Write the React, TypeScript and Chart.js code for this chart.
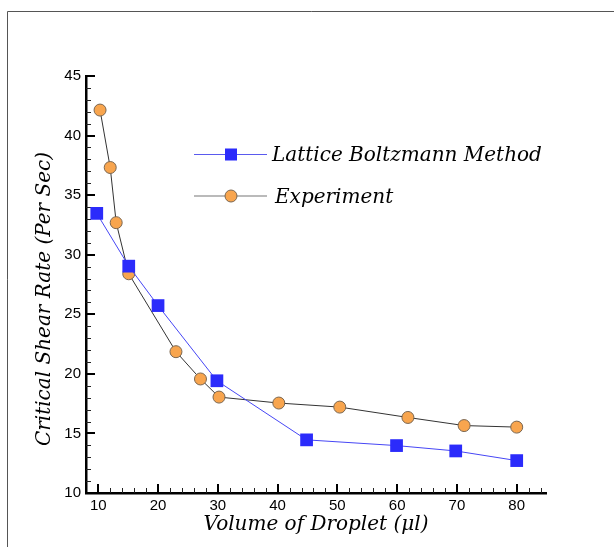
import React, { useEffect, useRef } from "react";
import { Chart, registerables } from "chart.js";

Chart.register(...registerables);

// ---- data ----
const lbmLabel = "Lattice Boltzmann Method";
const lbmX = [9.75, 15.1, 20, 29.85, 44.85, 59.9, 69.8, 80];
const lbmY = [33.47, 29.04, 25.73, 19.42, 14.46, 13.98, 13.53, 12.72];

const expLabel = "Experiment";
const expX = [10.3, 12.0, 13.0, 15.1, 23.0, 27.1, 30.2, 40.2, 50.4, 61.8, 71.2, 80];
const expY = [42.14, 37.32, 32.69, 28.4, 21.86, 19.57, 18.05, 17.55, 17.21, 16.34, 15.66, 15.53];

const xMajorTicks = [10, 20, 30, 40, 50, 60, 70, 80];
const xMinorTicks = [12, 14, 16, 18, 22, 24, 26, 28, 32, 34, 36, 38, 42, 44, 46, 48, 52, 54, 56, 58, 62, 64, 66, 68, 72, 74, 76, 78, 82, 84];
const yMajorTicks = [10, 15, 20, 25, 30, 35, 40, 45];
const yMinorTicks = [11, 12, 13, 14, 16, 17, 18, 19, 21, 22, 23, 24, 26, 27, 28, 29, 31, 32, 33, 34, 36, 37, 38, 39, 41, 42, 43, 44];

const xTitle = "Volume of Droplet (\u03BCl)";
const yTitle = "Critical Shear Rate (Per Sec)";

const SERIF = "italic 20px 'DejaVu Serif'";

const decorPlugin = {
  id: "decor",
  beforeDraw(chart: any) {
    const ctx = chart.ctx;
    ctx.save();
    ctx.strokeStyle = "#555";
    ctx.lineWidth = 1;
    ctx.beginPath();
    ctx.moveTo(7.5, 560);
    ctx.lineTo(7.5, 11.5);
    ctx.lineTo(620, 11.5);
    ctx.stroke();
    ctx.restore();
  },
  beforeDatasetsDraw(chart: any) {
    const ctx = chart.ctx;
    const xs = chart.scales.x;
    const ys = chart.scales.y;
    const area = chart.chartArea;
    ctx.save();
    ctx.strokeStyle = "#000";
    ctx.lineWidth = 2;
    ctx.beginPath();
    xMajorTicks.forEach((v) => {
      const px = Math.round(xs.getPixelForValue(v));
      ctx.moveTo(px, area.bottom);
      ctx.lineTo(px, area.bottom - 9);
    });
    yMajorTicks.forEach((v) => {
      if (v === ys.min) return;
      const py = Math.round(ys.getPixelForValue(v));
      ctx.moveTo(area.left, py);
      ctx.lineTo(area.left + 9, py);
    });
    ctx.stroke();
    ctx.strokeStyle = "#222";
    ctx.lineWidth = 1;
    ctx.beginPath();
    xMinorTicks.forEach((v) => {
      const px = Math.round(xs.getPixelForValue(v)) + 0.5;
      ctx.moveTo(px, area.bottom);
      ctx.lineTo(px, area.bottom - 5);
    });
    yMinorTicks.forEach((v) => {
      const py = Math.round(ys.getPixelForValue(v)) + 0.5;
      ctx.moveTo(area.left, py);
      ctx.lineTo(area.left + 5, py);
    });
    ctx.stroke();
    ctx.restore();
  },
  afterDraw(chart: any) {
    const ctx = chart.ctx;
    const area = chart.chartArea;
    ctx.save();
    ctx.fillStyle = "#000";
    ctx.font = SERIF;
    ctx.textAlign = "center";
    ctx.textBaseline = "alphabetic";
    ctx.fillText(xTitle, (area.left + area.right) / 2, 530);
    ctx.save();
    ctx.translate(50, 299);
    ctx.rotate(-Math.PI / 2);
    ctx.fillText(yTitle, 0, 0);
    ctx.restore();

    const items = [
      { ds: chart.data.datasets[0], y: 154.5, textX: 272, line: "#5a5aee" },
      { ds: chart.data.datasets[1], y: 196, textX: 275, line: "#777" },
    ];
    items.forEach((it) => {
      ctx.strokeStyle = it.line;
      ctx.lineWidth = 1.2;
      ctx.beginPath();
      ctx.moveTo(194, it.y);
      ctx.lineTo(267, it.y);
      ctx.stroke();
      const cx = 231;
      ctx.fillStyle = it.ds.pointBackgroundColor;
      ctx.strokeStyle = it.ds.pointBorderColor;
      ctx.lineWidth = 1;
      if (it.ds.pointStyle === "rect") {
        ctx.fillRect(cx - 6, it.y - 6, 12, 12);
      } else {
        ctx.beginPath();
        ctx.arc(cx, it.y, 6, 0, Math.PI * 2);
        ctx.fill();
        ctx.stroke();
      }
      ctx.fillStyle = "#000";
      ctx.font = SERIF;
      ctx.textAlign = "left";
      ctx.textBaseline = "alphabetic";
      ctx.fillText(it.ds.label, it.textX, it.y + 6.5);
    });
    ctx.restore();
  },
};

export default function App() {
  const canvasRef = useRef<HTMLCanvasElement | null>(null);

  useEffect(() => {
    const canvas = canvasRef.current;
    if (!canvas) return;
    const tickFont = { family: "'Liberation Sans', Arial, sans-serif", size: 15 };
    const chart = new Chart(canvas, {
      type: "line",
      data: {
        datasets: [
          {
            label: lbmLabel,
            data: lbmX.map((x, i) => ({ x, y: lbmY[i] })),
            borderColor: "#4646f5",
            borderWidth: 1,
            pointStyle: "rect",
            pointRadius: 9,
            pointBackgroundColor: "#2b2bfb",
            pointBorderColor: "#2b2bfb",
            pointBorderWidth: 0,
            tension: 0,
          },
          {
            label: expLabel,
            data: expX.map((x, i) => ({ x, y: expY[i] })),
            borderColor: "#333333",
            borderWidth: 1,
            pointStyle: "circle",
            pointRadius: 6,
            pointBackgroundColor: "#f8a54e",
            pointBorderColor: "#7a6650",
            pointBorderWidth: 1,
            tension: 0,
          },
        ],
      } as any,
      options: {
        animation: false,
        responsive: false,
        devicePixelRatio: 1,
        layout: { padding: { top: 76, right: 68, left: 0, bottom: 0 } },
        plugins: { legend: { display: false }, tooltip: { enabled: false } },
        scales: {
          x: {
            type: "linear",
            min: 7.95,
            max: 84.9,
            afterBuildTicks: (s: any) => {
              s.ticks = xMajorTicks.map((v) => ({ value: v }));
            },
            afterFit: (s: any) => {
              s.height = 54;
            },
            grid: { display: false, drawTicks: false },
            border: { display: true, color: "#000", width: 2.5 },
            ticks: { color: "#000", font: tickFont, padding: 4, maxRotation: 0 },
          },
          y: {
            type: "linear",
            min: 10,
            max: 45,
            afterBuildTicks: (s: any) => {
              s.ticks = yMajorTicks.map((v) => ({ value: v }));
            },
            afterFit: (s: any) => {
              s.width = 86;
            },
            grid: { display: false, drawTicks: false },
            border: { display: true, color: "#000", width: 2.5 },
            ticks: { color: "#000", font: tickFont, padding: 5 },
          },
        },
      } as any,
      plugins: [decorPlugin],
    });
    return () => chart.destroy();
  }, []);

  return (
    <div style={{ position: "absolute", left: 0, top: 0, width: 614, height: 547, background: "#fff" }}>
      <canvas ref={canvasRef} width={614} height={547} />
    </div>
  );
}
